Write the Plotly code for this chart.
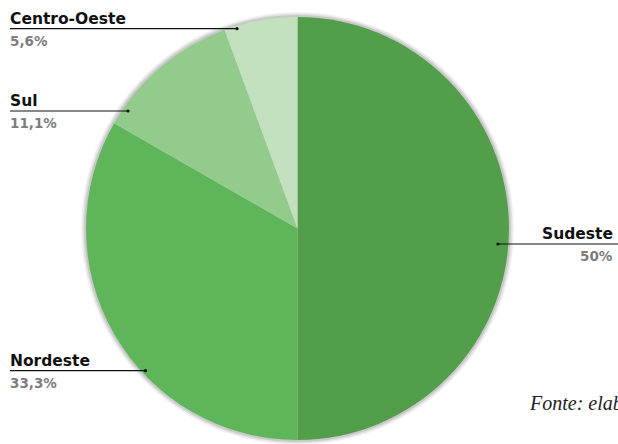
import plotly.graph_objects as go

# Regional distribution
regions = ["Sudeste", "Nordeste", "Sul", "Centro-Oeste"]
shares = [50, 33.3, 11.1, 5.6]
share_labels = ["50%", "33,3%", "11,1%", "5,6%"]
colors = ["#529e4a", "#5fb65a", "#93cb8c", "#c3e1bf"]

W, H = 618, 444
cx, cy, r = 297.5, 228.5, 211.5

fig = go.Figure()

fig.add_trace(go.Pie(
    labels=regions,
    values=shares,
    sort=False,
    direction="clockwise",
    rotation=0,
    marker=dict(colors=colors, line=dict(width=0)),
    textinfo="none",
    hoverinfo="label+percent",
    showlegend=False,
    domain=dict(x=[(cx - r) / W, (cx + r) / W],
                y=[1 - (cy + r) / H, 1 - (cy - r) / H]),
))

# soft grey halo around the pie
shapes = []
for dr, op in [(5, 0.05), (3.5, 0.07), (2, 0.10)]:
    shapes.append(dict(type="circle", xref="x", yref="y", layer="below",
                       x0=cx - r - dr, x1=cx + r + dr, y0=cy - r - dr, y1=cy + r + dr,
                       fillcolor=f"rgba(0,0,0,{op})", line=dict(width=0)))

# leader lines: (x_text_side, x_dot, y)
leaders = {
    "Centro-Oeste": (10, 237, 28.7),
    "Sul": (10, 128, 111),
    "Nordeste": (10, 145.5, 370.7),
    "Sudeste": (618, 498, 244),
}
annotations = []
name_font = dict(family="DejaVu Sans, sans-serif", size=15.5, color="#111111")
pct_font = dict(family="DejaVu Sans, sans-serif", size=13.5, color="#7d7d7d")
for name, pct in zip(regions, share_labels):
    x_side, x_dot, y = leaders[name]
    shapes.append(dict(type="line", xref="x", yref="y", x0=x_side, x1=x_dot, y0=y, y1=y,
                       line=dict(color="#111111", width=1.2)))
    shapes.append(dict(type="circle", xref="x", yref="y", x0=x_dot - 1.6, x1=x_dot + 1.6,
                       y0=y - 1.6, y1=y + 1.6, fillcolor="#111111", line=dict(width=0)))
    if x_side > x_dot:
        tx, anchor = 615, "right"
    else:
        tx, anchor = 8, "left"
    annotations.append(dict(x=tx, y=y - 10, xref="x", yref="y", text=f"<b>{name}</b>",
                            showarrow=False, xanchor=anchor, yanchor="middle", font=name_font))
    annotations.append(dict(x=tx, y=y + 12, xref="x", yref="y", text=f"<b>{pct}</b>",
                            showarrow=False, xanchor=anchor, yanchor="middle", font=pct_font))

annotations.append(dict(x=527, y=403, xref="x", yref="y", text="<i>Fonte: elaboração própria</i>",
                        showarrow=False, xanchor="left", yanchor="middle",
                        font=dict(family="Liberation Serif, serif", size=20, color="#222222")))

fig.update_layout(
    width=W, height=H,
    margin=dict(l=0, r=0, t=0, b=0),
    paper_bgcolor="white", plot_bgcolor="white",
    xaxis=dict(range=[0, W], visible=False, fixedrange=True, domain=[0, 1]),
    yaxis=dict(range=[H, 0], visible=False, fixedrange=True, domain=[0, 1]),
    shapes=shapes,
    annotations=annotations,
)

fig.write_html("out.html")
